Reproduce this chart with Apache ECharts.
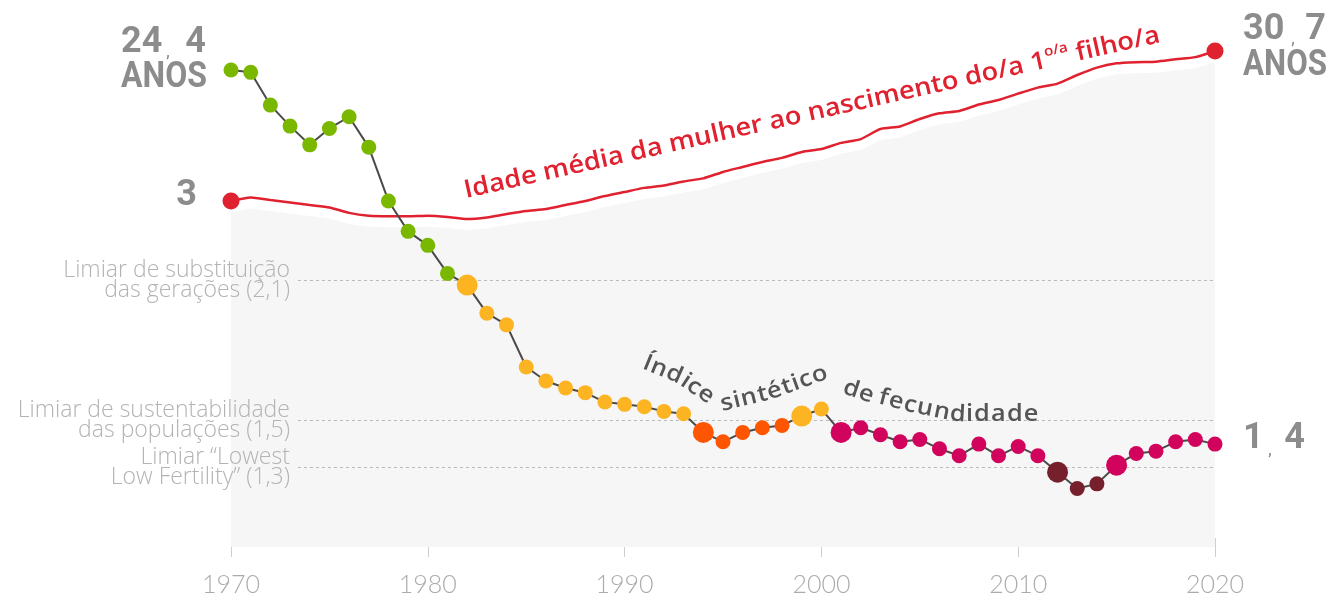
<!DOCTYPE html>
<html><head><meta charset="utf-8">
<script src="https://cdn.jsdelivr.net/npm/echarts@6/dist/echarts.min.js"></script>
<style>html,body{margin:0;padding:0;background:#fff}#c{width:1330px;height:594px}</style>
</head><body><div id="c"></div>
<script>
// ---------- DATA ----------
const years = [1970,1971,1972,1973,1974,1975,1976,1977,1978,1979,
  1980,1981,1982,1983,1984,1985,1986,1987,1988,1989,
  1990,1991,1992,1993,1994,1995,1996,1997,1998,1999,
  2000,2001,2002,2003,2004,2005,2006,2007,2008,2009,
  2010,2011,2012,2013,2014,2015,2016,2017,2018,2019,2020];
// Índice sintético de fecundidade
const fertility = [3.00,2.99,2.85,2.76,2.68,2.75,2.80,2.67,2.44,2.31,
  2.25,2.13,2.08,1.96,1.91,1.73,1.67,1.64,1.62,1.58,
  1.57,1.56,1.54,1.53,1.45,1.41,1.45,1.47,1.48,1.52,
  1.55,1.45,1.47,1.44,1.41,1.42,1.38,1.35,1.40,1.35,
  1.39,1.35,1.28,1.21,1.23,1.31,1.36,1.37,1.41,1.42,1.40];
// Idade média da mulher ao nascimento do/a 1.º/a filho/a
const ageFirstChild = [24.40,24.55,24.44,24.34,24.23,24.13,23.90,23.78,23.76,23.76,
  23.78,23.73,23.64,23.71,23.85,23.98,24.06,24.23,24.40,24.61,
  24.78,24.95,25.05,25.22,25.35,25.62,25.83,26.04,26.21,26.46,
  26.58,26.84,27.00,27.42,27.53,27.84,28.08,28.18,28.45,28.64,
  28.91,29.16,29.33,29.69,30.00,30.18,30.23,30.25,30.35,30.44,30.70];
// colour period of each year
const periodGroup = ['A','A','A','A','A','A','A','A','A','A',
  'A','A','B','B','B','B','B','B','B','B',
  'B','B','B','B','C','C','C','C','C','B',
  'B','D','D','D','D','D','D','D','D','D',
  'D','D','E','E','E','D','D','D','D','D','D'];
const periodStartYears = [1982,1994,1999,2001,2012,2015];
const thresholds = [2.1, 1.5, 1.3];
const thresholdLabels = ['Limiar de substituição\ndas gerações (2,1)',
  'Limiar de sustentabilidade\ndas populações (1,5)',
  'Limiar \u201cLowest\nLow Fertility\u201d (1,3)'];
const xTicks = [1970,1980,1990,2000,2010,2020];
const ageTitle = 'Idade média da mulher ao nascimento do/a 1';
const ageTitleSup = 'o/a';
const ageTitleEnd = ' filho/a';
const fertTitleWords = ['Índice', 'sintético', 'de', 'fecundidade'];

// ---------- STYLE ----------
const groupColors = {A:'#7ab800', B:'#fdb423', C:'#fe5500', D:'#d2035c', E:'#77202d'};
const RED = '#e0212f';
const GREY_TXT = '#8c8c8c';
const THIN = 'Lato';
const BIG = 'Roboto';

const fertData = years.map((y,i)=>({
  value:[y, fertility[i]],
  symbolSize: periodStartYears.includes(y) ? 21 : 15,
  itemStyle:{color: groupColors[periodGroup[i]]}
}));
const ageData = years.map((y,i)=>({
  value:[y, ageFirstChild[i]],
  symbolSize: (i===0 || i===years.length-1) ? 17 : 0
}));

const AGE_MIN = 9.87, AGE_MAX = 29.9;
const AREA_GAP = 11;

const chart = echarts.init(document.getElementById('c'));

// words laid along baseline paths
function curvedWords(words, paths, fontSize, sx, color){
  const fam = '"Open Sans"', fw = 600;
  const ctx = document.createElement('canvas').getContext('2d');
  ctx.font = fw + ' ' + fontSize + 'px ' + fam;
  const els=[];
  words.forEach((word, wi)=>{
    const path = paths[wi];
    const chars = Array.from(word);
    const widths = chars.map(c=>ctx.measureText(c).width*sx);
    const total = widths.reduce((a,b)=>a+b,0);
    const segs=[]; let L=0;
    for(let i=0;i<path.length-1;i++){
      const a=path[i], b=path[i+1];
      const len=Math.hypot(b[0]-a[0], b[1]-a[1]);
      segs.push({a,b,len,start:L}); L+=len;
    }
    const at = s=>{
      let sg = segs[0];
      for(const g of segs){ if(s>=g.start) sg=g; }
      const t=(s-sg.start)/sg.len;
      return [sg.a[0]+(sg.b[0]-sg.a[0])*t, sg.a[1]+(sg.b[1]-sg.a[1])*t];
    };
    const k = L/total;
    let s=0;
    chars.forEach((c,i)=>{
      const w=widths[i]*k; const sc=s+w/2; s+=w;
      const p=at(sc), p1=at(sc-6), p2=at(sc+6);
      const a=Math.atan2(p2[1]-p1[1], p2[0]-p1[0]);
      const m=fontSize*0.33;
      els.push({type:'text', x:p[0]+Math.sin(a)*m, y:p[1]-Math.cos(a)*m, rotation:-a, scaleX:sx, z:60, silent:true,
        style:{text:c, fontSize, fontFamily:fam, fontWeight:fw, fill:color, align:'center', verticalAlign:'middle'}});
    });
  });
  return els;
}

const bigNum = (text, x, y, align, sx) => ({type:'text', x, y, z:60, silent:true, scaleX: sx||1,
  style:{text, fontSize:36, fontFamily:BIG, fontWeight:'bold', fill:GREY_TXT, align, verticalAlign:'middle'}});
const comma = (x, y) => ({type:'text', x, y, z:60, silent:true,
  style:{text:',', fontSize:14, fontFamily:BIG, fontWeight:'bold', fill:GREY_TXT, align:'center', verticalAlign:'bottom'}});

const titleAngle = Math.atan2(156.7, 698);
const graphics = [
  bigNum('24', 121, 43, 'left'), comma(168, 60), bigNum('4', 206, 43, 'right'),
  bigNum('ANOS', 121, 78, 'left', 0.89),
  bigNum('3', 197, 196, 'right'),
  bigNum('30', 1243, 30, 'left'), comma(1293, 47), bigNum('7', 1326, 30, 'right'),
  bigNum('ANOS', 1243, 66, 'left', 0.87),
  bigNum('1', 1243, 439, 'left'), comma(1270, 458), bigNum('4', 1305, 439, 'right'),
  {type:'text', x:812, y:113, rotation:titleAngle, scaleX:1.09, z:60, silent:true,
    style:{text:'{t|'+ageTitle+'}{s|'+ageTitleSup+'}{t|'+ageTitleEnd+'}', align:'center', verticalAlign:'middle',
      rich:{t:{fontSize:25, fontFamily:'"Open Sans"', fontWeight:600, fill:RED, lineHeight:30},
            s:{fontSize:14, fontFamily:'"Open Sans"', fontWeight:600, fill:RED, verticalAlign:'top', lineHeight:22}}}},
  ...curvedWords(fertTitleWords, [
      [[641,369],[675,383],[708,405]],
      [[722,412],[772,400],[830,379]],
      [[841,394],[871,404]],
      [[877,404],[915,414],[955,422],[1039,422]]
    ], 23, 1.1, '#555555')
];

const option = {
  animation:false,
  backgroundColor:'#ffffff',
  grid:{left:231, right:115, top:70, height:477, containLabel:false, outerBoundsMode:'none'},
  xAxis:{type:'value', min:1970, max:2020, interval:10, offset:-9,
    axisLine:{show:false}, splitLine:{show:false},
    axisTick:{show:true, length:19, lineStyle:{color:'#cfcfcf', width:1}},
    axisLabel:{margin:34, fontSize:25, fontFamily:THIN, fontWeight:300, color:'#ababab',
      formatter:v=>xTicks.includes(v)?String(v):''}},
  yAxis:[
    {type:'value', min:0.96, max:3.0, show:false, splitLine:{show:false}},
    {type:'value', min:AGE_MIN, max:AGE_MAX, show:false, splitLine:{show:false}}
  ],
  series:[
    {type:'custom', xAxisIndex:0, yAxisIndex:1, z:1, silent:true, clip:false,
      data:[[years[0], ageFirstChild[0]]],
      renderItem:(params, api)=>{
        const pts = years.map((y,i)=>{const p=api.coord([y, ageFirstChild[i]]); return [p[0], p[1]+AREA_GAP];});
        pts.push(api.coord([years[years.length-1], AGE_MIN]));
        pts.push(api.coord([years[0], AGE_MIN]));
        return {type:'polygon', shape:{points:pts}, style:{fill:'#f6f6f6'}};
      }},
    {type:'line', xAxisIndex:0, yAxisIndex:0, z:2, silent:true, data:[], symbol:'none',
      markLine:{silent:true, symbol:'none', animation:false,
        lineStyle:{type:[3,3], color:'#b9b9b9', width:1},
        label:{position:'start', distance:8, fontSize:23, lineHeight:20, fontFamily:'"Open Sans"', fontWeight:300, color:'#b3b3b3', align:'right'},
        data: thresholds.map((t,i)=>[
          {coord:[1973.4, t], label:{formatter:thresholdLabels[i]}},
          {coord:[2020, t]}
        ])}},
    {type:'line', xAxisIndex:0, yAxisIndex:1, z:4, silent:true, clip:false,
      data:ageData, symbol:'circle', showSymbol:true, smooth:0.2,
      lineStyle:{color:RED, width:2.5}, itemStyle:{color:RED}},
    {type:'line', xAxisIndex:0, yAxisIndex:0, z:5, silent:true, clip:false,
      data:fertData, symbol:'circle', showSymbol:true,
      lineStyle:{color:'#4a4a4a', width:2}}
  ],
  graphic:{elements:graphics}
};
chart.setOption(option);
</script>
</body></html>
